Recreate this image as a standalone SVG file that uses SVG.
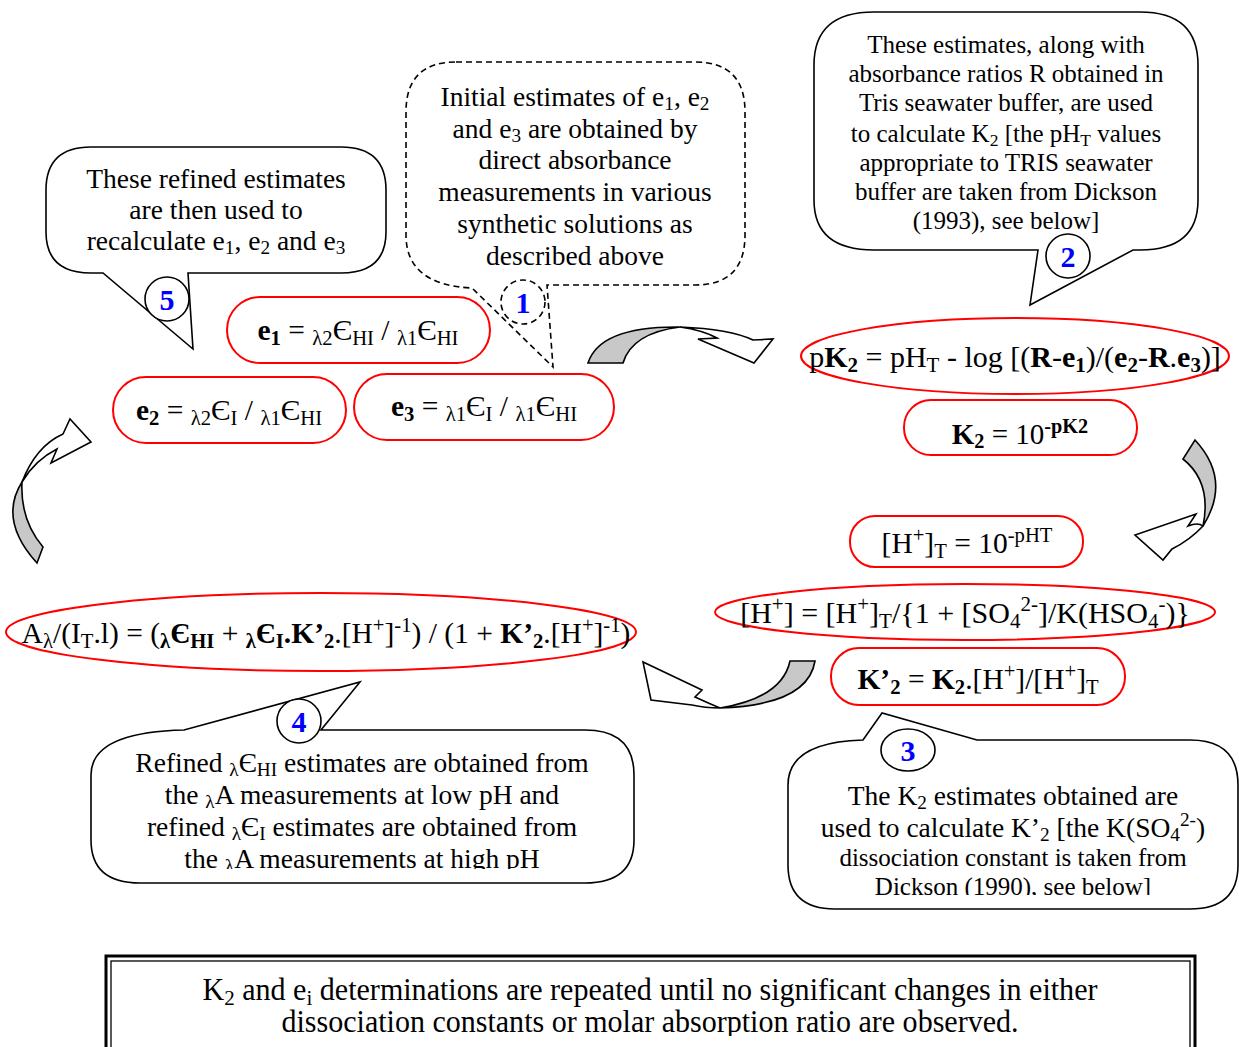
<svg xmlns="http://www.w3.org/2000/svg" width="1239" height="1047" viewBox="0 0 1239 1047">
<style>
text{font-family:"Liberation Serif","Times New Roman",serif;fill:#000;text-anchor:middle}
.t27{font-size:27.5px}
.t25{font-size:25px}
.sb{font-size:70%;baseline-shift:-0.22em}
.sp{font-size:70%;baseline-shift:0.55em}
.b{font-weight:bold}
.callout{fill:#fff;stroke:#000;stroke-width:1.6}
.dash{fill:#fff;stroke:#000;stroke-width:1.6;stroke-dasharray:6 4}
.oval{fill:#fff;stroke:#ff0000;stroke-width:2}
.num{font-size:30px;font-weight:bold;fill:#0000ff}
.badge{fill:#fff;stroke:#000;stroke-width:1.6}
.ga{fill:#c8c8c8;stroke:#000;stroke-width:1.6;stroke-linejoin:miter}
.wa{fill:#fff;stroke:#000;stroke-width:1.6;stroke-linejoin:miter}
</style>
<defs>
<clipPath id="c4"><rect x="91" y="730" width="543" height="139"/></clipPath>
<clipPath id="c3"><rect x="788" y="700" width="451" height="195"/></clipPath>
<clipPath id="cb"><rect x="110" y="961" width="1081" height="75"/></clipPath>
</defs>
<rect width="1239" height="1047" fill="#fff"/>

<g id="connectors">
<path class="ga" d="M588,363 Q600,326 680,327 Q632,333 623,363 Z"/>
<path class="wa" d="M680,327 Q730,329 753,340 L773,339 L754,363 L698,339 L717,338 Q702,330 680,327 Z"/>
<path class="ga" d="M1195,440 Q1232,480 1203,526 Q1212,482 1183,459 Z"/>
<path class="wa" d="M1203,526 Q1190,540 1172,549 L1163,560 L1135,535 L1196,514 L1188,526 Q1198,522 1203,526 Z"/>
<path class="ga" d="M815,661 Q808,705 720,708 Q782,698 790,661 Z"/>
<path class="wa" d="M720,708 Q705,708 692,705 L651,700 L643,662 L702,690 L695,697 Q708,703 720,708 Z"/>
<path class="ga" d="M37,563 Q-2,520 22,482 Q20,520 43,547 Z"/>
<path class="wa" d="M22,482 Q36,446 63,434 L70,419 L91,442 L51,463 L57,449 Q35,460 22,482 Z"/>
</g>

<g id="callout5">
<path class="callout" d="M91,147 H341 Q386,147 386,190 V232 Q386,273 341,273 H188 L193,349 L103,273 H91 Q46,273 46,232 V190 Q46,147 91,147 Z"/>
<circle class="badge" cx="167" cy="299" r="22"/>
<text class="num" x="167" y="310">5</text>
<text class="t27" x="216" y="188">These refined estimates</text>
<text class="t27" x="216" y="219">are then used to</text>
<text class="t27" x="216" y="250">recalculate e<tspan class="sb">1</tspan>, e<tspan class="sb">2</tspan> and e<tspan class="sb">3</tspan></text>
</g>

<g id="callout1">
<path class="dash" d="M456,62 H695 Q745,62 745,112 V235 Q745,285 695,285 H547 L553,367 L472,288 Q406,285 406,235 V112 Q406,62 456,62 Z"/>
<circle class="dash" cx="523" cy="302" r="22"/>
<text class="num" x="523" y="313">1</text>
<text class="t27" x="575" y="106">Initial estimates of e<tspan class="sb">1</tspan>, e<tspan class="sb">2</tspan></text>
<text class="t27" x="575" y="138">and e<tspan class="sb">3</tspan> are obtained by</text>
<text class="t27" x="575" y="169">direct absorbance</text>
<text class="t27" x="575" y="201">measurements in various</text>
<text class="t27" x="575" y="233">synthetic solutions as</text>
<text class="t27" x="575" y="265">described above</text>
</g>

<g id="callout2">
<path class="callout" d="M874,12 H1140 Q1198,12 1198,65 V200 Q1198,250 1140,250 H1133 L1030,305 L1038,250 H874 Q814,250 814,200 V65 Q814,12 874,12 Z"/>
<circle class="badge" cx="1068" cy="256" r="22"/>
<text class="num" x="1068" y="267">2</text>
<text class="t25" x="1006" y="53">These estimates, along with</text>
<text class="t25" x="1006" y="82">absorbance ratios R obtained in</text>
<text class="t25" x="1006" y="111">Tris seawater buffer, are used</text>
<text class="t25" x="1006" y="142">to calculate K<tspan class="sb">2</tspan> [the pH<tspan class="sb">T</tspan> values</text>
<text class="t25" x="1006" y="171">appropriate to TRIS seawater</text>
<text class="t25" x="1006" y="200">buffer are taken from Dickson</text>
<text class="t25" x="1006" y="229">(1993), see below]</text>
</g>

<g id="eq-e1">
<rect class="oval" x="227" y="297" width="263" height="66" rx="33"/>
<text x="358" y="340" font-size="29.5"><tspan class="b">e<tspan class="sb">1</tspan></tspan> = <tspan class="sb">λ2</tspan>Є<tspan class="sb">HI</tspan> / <tspan class="sb">λ1</tspan>Є<tspan class="sb">HI</tspan></text>
</g>
<g id="eq-e2">
<rect class="oval" x="113" y="377" width="233" height="66" rx="33"/>
<text x="229" y="420" font-size="29.5"><tspan class="b">e<tspan class="sb">2</tspan></tspan> = <tspan class="sb">λ2</tspan>Є<tspan class="sb">I</tspan> / <tspan class="sb">λ1</tspan>Є<tspan class="sb">HI</tspan></text>
</g>
<g id="eq-e3">
<rect class="oval" x="354" y="374" width="260" height="66" rx="33"/>
<text x="484" y="416" font-size="29.5"><tspan class="b">e<tspan class="sb">3</tspan></tspan> = <tspan class="sb">λ1</tspan>Є<tspan class="sb">I</tspan> / <tspan class="sb">λ1</tspan>Є<tspan class="sb">HI</tspan></text>
</g>

<g id="eq-pK2">
<ellipse class="oval" cx="1015" cy="356" rx="214" ry="38"/>
<text x="1015" y="367" font-size="30">p<tspan class="b">K<tspan class="sb">2</tspan></tspan> = pH<tspan class="sb">T</tspan> - log [(<tspan class="b">R</tspan>-<tspan class="b">e<tspan class="sb">1</tspan></tspan>)/(<tspan class="b">e<tspan class="sb">2</tspan></tspan>-<tspan class="b">R</tspan>.<tspan class="b">e<tspan class="sb">3</tspan></tspan>)]</text>
</g>
<g id="eq-K2">
<rect class="oval" x="904" y="400" width="233" height="55" rx="27"/>
<text x="1020" y="444" font-size="29"><tspan class="b">K<tspan class="sb">2</tspan></tspan> = 10<tspan class="sp b">-pK2</tspan></text>
</g>
<g id="eq-HT">
<rect class="oval" x="850" y="516" width="233" height="51" rx="25"/>
<text x="967" y="553" font-size="29.5">[H<tspan class="sp">+</tspan>]<tspan class="sb">T</tspan> = 10<tspan class="sp">-pHT</tspan></text>
</g>
<g id="eq-H">
<ellipse class="oval" cx="965" cy="612" rx="250" ry="28"/>
<text x="965" y="623" font-size="30">[H<tspan class="sp">+</tspan>] = [H<tspan class="sp">+</tspan>]<tspan class="sb">T</tspan>/{1 + [SO<tspan class="sb">4</tspan><tspan class="sp">2-</tspan>]/K(HSO<tspan class="sb">4</tspan><tspan class="sp">-</tspan>)}</text>
</g>
<g id="eq-Kp2">
<rect class="oval" x="831" y="648" width="294" height="57" rx="28"/>
<text x="978" y="689" font-size="29.5"><tspan class="b">K’<tspan class="sb">2</tspan></tspan> = <tspan class="b">K<tspan class="sb">2</tspan></tspan>.[H<tspan class="sp">+</tspan>]/[H<tspan class="sp">+</tspan>]<tspan class="sb">T</tspan></text>
</g>
<g id="eq-A">
<ellipse class="oval" cx="321" cy="632" rx="315" ry="39"/>
<text x="326" y="643" font-size="29.5">A<tspan class="sb">λ</tspan>/(I<tspan class="sb">T</tspan>.l) = (<tspan class="b"><tspan class="sb">λ</tspan>Є<tspan class="sb">HI</tspan></tspan> + <tspan class="b"><tspan class="sb">λ</tspan>Є<tspan class="sb">I</tspan>.K’<tspan class="sb">2</tspan></tspan>.[H<tspan class="sp">+</tspan>]<tspan class="sp">-1</tspan>) / (1 + <tspan class="b">K’<tspan class="sb">2</tspan></tspan>.[H<tspan class="sp">+</tspan>]<tspan class="sp">-1</tspan>)</text>
</g>

<g id="callout4">
<path class="callout" d="M91,775 Q91,732 184,730 L360,682 L321,730 H585 Q634,730 634,775 V840 Q634,883 585,883 H140 Q91,883 91,840 Z"/>
<circle class="badge" cx="299" cy="721" r="22"/>
<text class="num" x="299" y="732">4</text>
<g clip-path="url(#c4)">
<text class="t27" x="362" y="772">Refined <tspan class="sb">λ</tspan>Є<tspan class="sb">HI</tspan> estimates are obtained from</text>
<text class="t27" x="362" y="804">the <tspan class="sb">λ</tspan>A measurements at low pH and</text>
<text class="t27" x="362" y="836">refined <tspan class="sb">λ</tspan>Є<tspan class="sb">I</tspan> estimates are obtained from</text>
<text class="t27" x="362" y="868">the <tspan class="sb">λ</tspan>A measurements at high pH</text>
</g>
</g>

<g id="callout3">
<path class="callout" d="M788,785 Q788,742 863,740 L882,713 L977,740 H1190 Q1238,740 1238,785 V865 Q1238,909 1190,909 H835 Q788,909 788,865 Z"/>
<ellipse class="badge" cx="908" cy="750" rx="27" ry="21"/>
<text class="num" x="908" y="761">3</text>
<g clip-path="url(#c3)">
<text class="t27" x="1013" y="805">The K<tspan class="sb">2</tspan> estimates obtained are</text>
<text class="t27" x="1013" y="837">used to calculate K’<tspan class="sb">2</tspan> [the K(SO<tspan class="sb">4</tspan><tspan class="sp">2-</tspan>)</text>
<text class="t25" x="1013" y="866">dissociation constant is taken from</text>
<text class="t25" x="1013" y="895">Dickson (1990), see below]</text>
</g>
</g>

<g id="summary">
<rect x="106" y="956" width="1089" height="100" fill="#fff" stroke="#000" stroke-width="3"/>
<rect x="111" y="961" width="1079" height="95" fill="none" stroke="#000" stroke-width="1.3"/>
<g clip-path="url(#cb)">
<text x="650" y="1000" font-size="31" textLength="895" lengthAdjust="spacingAndGlyphs">K<tspan class="sb">2</tspan> and e<tspan class="sb">i</tspan> determinations are repeated until no significant changes in either</text>
<text x="650" y="1032" font-size="31" textLength="737" lengthAdjust="spacingAndGlyphs">dissociation constants or molar absorption ratio are observed.</text>
</g>
</g>
</svg>
